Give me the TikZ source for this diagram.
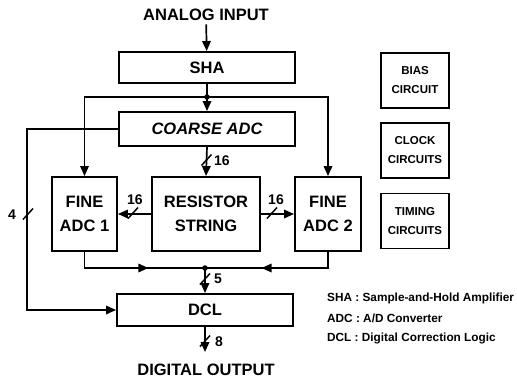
\documentclass[tikz,border=0pt]{standalone}
\usepackage{fontspec}
\setmainfont{Liberation Sans}
\usetikzlibrary{arrows.meta,calc}
\begin{document}
\begin{tikzpicture}[x=1pt,y=-1pt,
  box/.style={draw, line width=1.9pt, inner sep=0pt, align=center, font=\fontsize{16.5}{24}\selectfont\bfseries},
  sbox/.style={draw, line width=1.7pt, inner sep=0pt, minimum width=68pt, minimum height=55pt, align=center, font=\fontsize{11.5}{19}\selectfont\bfseries},
  lbl/.style={font=\fontsize{16.5}{19}\selectfont\bfseries},
  num/.style={font=\fontsize{14}{16}\selectfont\bfseries, inner sep=1pt},
  leg/.style={font=\fontsize{11.8}{14}\selectfont\bfseries, anchor=west, inner sep=0pt},
  con/.style={line width=1.7pt},
  arr/.style={con, -{Triangle[length=10pt,width=8.5pt]}},
  bus/.pic={\draw[line width=1.5pt] (-5,5.5) -- (5,-5.5);},
  dot/.style={circle, fill, inner sep=0pt, minimum size=5.5pt}
]
\useasboundingbox (0,0) rectangle (517,383);

% nodes
\node[lbl] (ain) at (206,15) {ANALOG INPUT};
\node[box, minimum width=176pt, minimum height=31pt] (sha) at (207,67.5) {SHA};
\node[box, minimum width=176pt, minimum height=34pt, font=\fontsize{16.5}{24}\selectfont\bfseries\itshape] (coarse) at (207,129) {COARSE ADC};
\node[box, minimum width=65pt, minimum height=74pt] (fine1) at (84.5,214) {FINE\\ADC 1};
\node[box, minimum width=108pt, minimum height=74pt] (rs) at (206,214) {RESISTOR\\STRING};
\node[box, minimum width=66pt, minimum height=74pt] (fine2) at (328,214) {FINE\\ADC 2};
\node[box, minimum width=176pt, minimum height=32pt] (dcl) at (205,310) {DCL};
\node[lbl] (dout) at (206,370) {DIGITAL OUTPUT};

\node[sbox] (bias) at (415,80.5) {BIAS\\CIRCUIT};
\node[sbox] (clock) at (415,150.5) {CLOCK\\CIRCUITS};
\node[sbox] (timing) at (415,221) {TIMING\\CIRCUITS};

\node[leg] (l1) at (327,298) {SHA : Sample-and-Hold Amplifier};
\node[leg] (l2) at (327,318) {ADC : A/D Converter};
\node[leg] (l3) at (327,338) {DCL : Digital Correction Logic};

% connectors
\draw[arr] (ain) -- (sha);
\draw[arr] (sha.south) -- (coarse.north);
\coordinate (j1) at (sha.south |- 0,97);
\node[dot] (d1) at (j1) {};
\draw[arr] (j1) -| (fine1.north);
\draw[arr] (j1) -| (fine2.north);

\draw[arr] (coarse.west) -- ++(-91,0) |- (dcl.west);
\pic at (28,214) {bus};
\node[num] (n4) at (12,215) {4};

\draw[arr] (coarse.south) -- (rs.north);
\pic at (206.5,160) {bus};
\node[num] (n16a) at (222,161) {16};

\draw[arr] (rs.west) -- (fine1.east);
\pic at (133,213) {bus};
\node[num] (n16b) at (135,200) {16};

\draw[arr] (rs.east) -- (fine2.west);
\pic at (272,213) {bus};
\node[num] (n16c) at (276,200) {16};

\coordinate (j2) at (205,268);
\coordinate (b1) at (fine1.south |- j2);
\coordinate (b2) at (fine2.south |- j2);
\draw[con] (fine1.south) -- (b1) -- (j2) -- (b2) -- (fine2.south);
\draw[arr] (b1) -- ($(b1)!0.53!(j2)$);
\draw[arr] (b2) -- ($(b2)!0.54!(j2)$);
\node[dot] (d2) at (j2) {};
\draw[arr] (j2) -- (dcl.north);
\pic at (205,279) {bus};
\node[num] (n5) at (218,279) {5};

\coordinate (out) at (dcl.south |- 0,352);
\draw[arr] (dcl.south) -- (out);
\pic at (205,341) {bus};
\node[num] (n8) at (219,342) {8};
\end{tikzpicture}
\end{document}
